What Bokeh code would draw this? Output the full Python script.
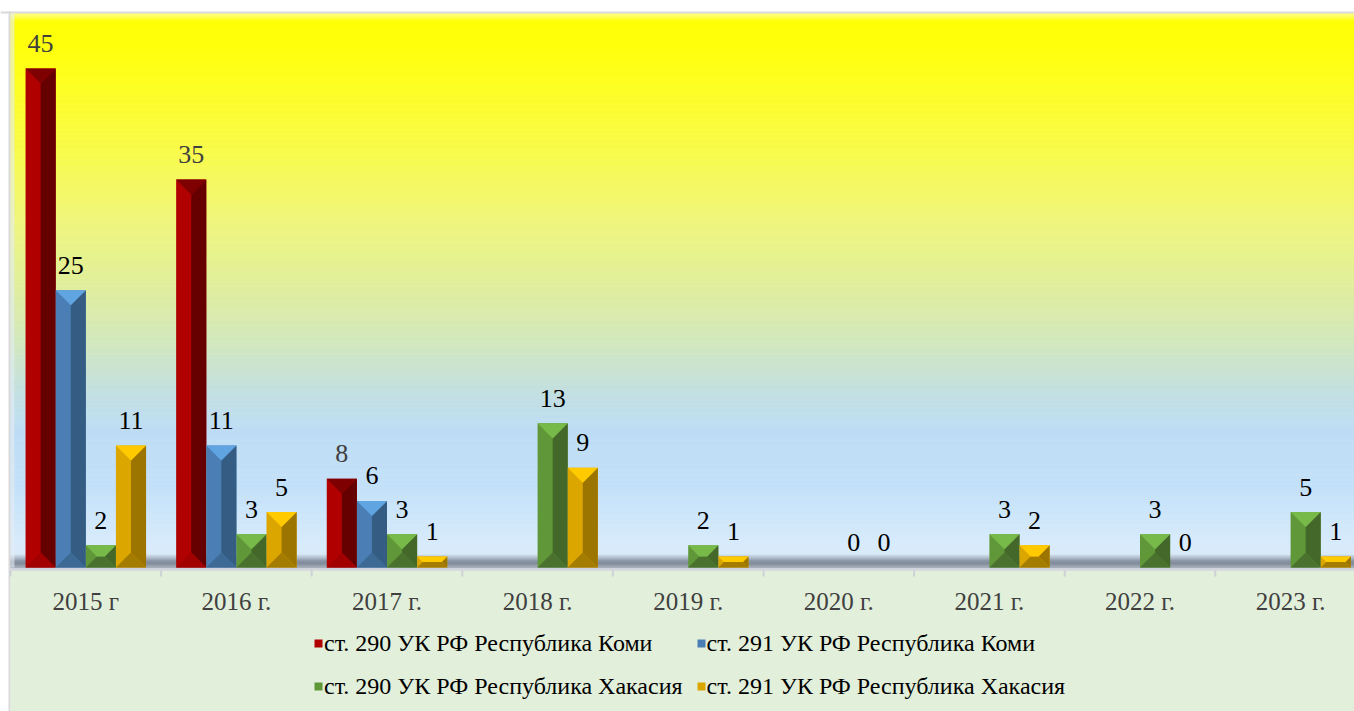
import numpy as np
from bokeh.plotting import figure
from bokeh.models import Range1d, Legend, LegendItem, ColumnDataSource
from bokeh.core.properties import value
from bokeh.embed import file_html
from bokeh.resources import INLINE

# ---------------- data ----------------
categories = ["2015 г", "2016 г.", "2017 г.", "2018 г.", "2019 г.",
              "2020 г.", "2021 г.", "2022 г.", "2023 г."]
komi_290 = [45, 35, 8, None, None, None, None, None, None]
komi_291 = [25, 11, 6, None, None, None, None, None, None]
khakasia_290 = [2, 3, 3, 13, 2, 0, 3, 3, 5]
khakasia_291 = [11, 5, 1, 9, 1, 0, 2, 0, 1]
series_names = ["ст. 290 УК РФ Республика Коми",
                "ст. 291 УК РФ Республика Коми",
                "ст. 290 УК РФ Республика Хакасия",
                "ст. 291 УК РФ Республика Хакасия"]

# ---------------- layout / styling ----------------
FONT_NAME = "Liberation Serif"
FONT = value(FONT_NAME)
W, H = 1354, 711
PXY = 11.089                 # px per unit (y)
PXX = 150.6                  # px per category
ZERO_Y = 567                 # page y of value 0
PLOT_LEFT = 10               # page x of category 0 start
PLOT_TOP = 13                # page y where the plot area starts
FLOOR = 3 / PXY              # light floor line below the bars
Y0 = -(H - ZERO_Y) / PXY
Y1 = ZERO_Y / PXY
X0 = -PLOT_LEFT / PXX
X1 = (W - PLOT_LEFT) / PXX
Y_TOP = (ZERO_Y - PLOT_TOP) / PXY
BAR_W = 0.2
offsets = [-0.3, -0.1, 0.1, 0.3]
# (left face, right face, top cap, bottom cap, label colour)
palettes = [
    ("#B00000", "#660000", "#7E0000", "#A20000", "#404040"),
    ("#4A7EB4", "#355D84", "#60A4E2", "#3D6A95", "#000000"),
    ("#5F9739", "#44682A", "#78BA4A", "#4A722E", "#000000"),
    ("#DCA600", "#9C7500", "#FFCA00", "#A47C00", "#000000"),
]

p = figure(width=W, height=H, x_range=Range1d(X0, X1), y_range=Range1d(Y0, Y1),
           output_backend="svg", toolbar_location=None,
           x_axis_type=None, y_axis_type=None,
           min_border_left=0, min_border_right=0, min_border_top=0,
           min_border_bottom=0)
p.outline_line_color = None
p.border_fill_color = "#FFFFFF"
p.background_fill_color = "#FFFFFF"

# ---------------- backgrounds (decoration) ----------------
# lower label / legend area
p.quad(left=0, right=X1, bottom=Y0, top=-FLOOR, fill_color="#E2EFDA", line_color=None)
stops = [
    (-FLOOR, "#D4D8DE"), (-0.01, "#D4D8DE"), (0.0, "#A4ACB8"), (0.15, "#9AA3AF"),
    (0.4, "#7E8896"), (0.65, "#8C98A8"), (0.9, "#B0BCCA"), (1.25, "#D8EAF8"),
    (2.0, "#D8ECFC"), (7.0, "#C4E1F9"), (12.4, "#BDDDF5"), (16.0, "#C3E0E0"),
    (20.5, "#D2E8BC"), (25.0, "#DFEE9E"), (31.4, "#EFF67A"), (37.7, "#F9FB48"),
    (45.8, "#FFFF10"), (49.3, "#FFFF00"), (49.5, "#FFFF30"), (Y_TOP, "#FFFF80"),
]
sy = np.array([s[0] for s in stops])
rgb = np.array([[int(c[i:i + 2], 16) for i in (1, 3, 5)] for _, c in stops])
edges = np.arange(-FLOOR, Y_TOP + 0.05, 0.05)
edges[-1] = Y_TOP
mids = (edges[:-1] + edges[1:]) / 2
cols = []
for m in mids:
    r, g, b = (int(round(np.interp(m, sy, rgb[:, k]))) for k in range(3))
    cols.append("#%02X%02X%02X" % (r, g, b))
p.quad(left=0, right=X1, bottom=edges[:-1], top=edges[1:], fill_color=cols,
       line_color=cols, line_width=0.5)
# chart frame border (top and left edges)
p.quad(left=X0, right=X1, bottom=Y_TOP, top=Y_TOP + 2 / PXY,
       fill_color="#D9D9D9", line_color=None)
p.quad(left=-2 / PXX, right=0, bottom=Y0, top=Y_TOP + 2 / PXY,
       fill_color="#D9D9D9", line_color=None)
p.quad(left=0, right=4 / PXX, bottom=0, top=Y_TOP,
       fill_color="#E4ECF4", line_color=None, fill_alpha=0.6)

# category separators and labels (categorical axis drawn from `categories`)
sep_x = list(range(len(categories) + 1))
p.segment(x0=sep_x, x1=sep_x, y0=-FLOOR, y1=-FLOOR - 6 / PXY,
          line_color="#CDD1D7", line_width=2)
p.text(x=[i + 0.5 for i in range(len(categories))], y=[0] * len(categories),
       text=categories, text_font=FONT, text_font_size="25px",
       text_align="center", text_baseline="alphabetic", y_offset=34,
       text_color="#404040")

# ---------------- bars ----------------
all_series = [komi_290, komi_291, khakasia_290, khakasia_291]
legend_items = []
for s_idx, (vals, name) in enumerate(zip(all_series, series_names)):
    left_c, right_c, top_c, bot_c, lab_c = palettes[s_idx]
    xs, tops = [], []
    for i, v in enumerate(vals):
        if v is None:
            continue
        xs.append(i + 0.5 + offsets[s_idx])
        tops.append(v)
    src = ColumnDataSource(dict(x=xs, top=tops, lab=[str(t) for t in tops]))
    r = p.vbar(x="x", top="top", bottom=0, width=BAR_W, source=src,
               fill_color=left_c, line_color=None)
    legend_items.append(LegendItem(label=name, renderers=[r]))
    rf_x, rf_y, tc_x, tc_y, bc_x, bc_y = [], [], [], [], [], []
    for x, t in zip(xs, tops):
        if t <= 0:
            continue
        h_px = t * PXY
        d_px = min(BAR_W * PXX / 2, h_px / 2)
        d = d_px / PXY
        ix = d_px / PXX
        xl, xr = x - BAR_W / 2, x + BAR_W / 2
        rf_x.append([xr, xr, xr - ix, xr - ix]); rf_y.append([0, t, t - d, d])
        tc_x.append([xl, xr, xr - ix, xl + ix]); tc_y.append([t, t, t - d, t - d])
        bc_x.append([xl, xr, xr - ix, xl + ix]); bc_y.append([0, 0, d, d])
    p.patches(rf_x, rf_y, fill_color=right_c, line_color=None)
    p.patches(bc_x, bc_y, fill_color=bot_c, line_color=None)
    p.patches(tc_x, tc_y, fill_color=top_c, line_color=None)
    p.text(x="x", y="top", text="lab", source=src, text_font=FONT,
           text_font_size="26px", text_align="center", text_baseline="alphabetic",
           y_offset=-25, text_color=lab_c)

# ---------------- legend (2 x 2 grid below the labels) ----------------
legend = Legend(items=legend_items, orientation="horizontal", ncols=2,
                location=(313, 10))
legend.label_text_font = FONT_NAME
legend.label_text_font_size = "24px"
legend.label_text_color = "#000000"
legend.glyph_width = 10
legend.glyph_height = 10
legend.label_standoff = 1
legend.label_height = 30
legend.label_width = 357
legend.spacing = 13
legend.padding = 0
legend.margin = 0
legend.background_fill_alpha = 0
legend.border_line_color = None
p.add_layout(legend)

open("out.html", "w").write(file_html(p, INLINE))
